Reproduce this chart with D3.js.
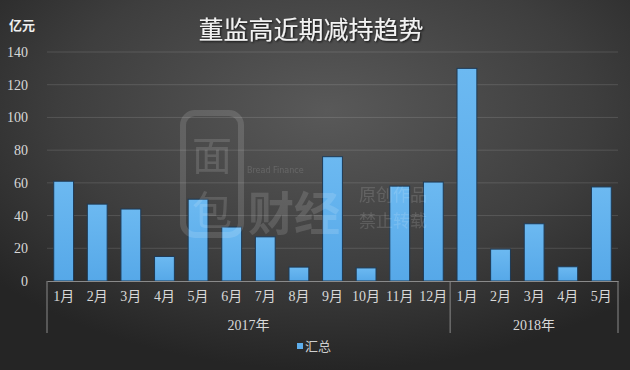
<!DOCTYPE html>
<html>
<head>
<meta charset="utf-8">
<script src="https://cdn.jsdelivr.net/npm/d3@7"></script>
<style>
  body { margin: 0; background: #2a2a2a; }
  svg { display: block; }
</style>
</head>
<body>
<div class="canvas"></div>
<script>
// data
const years = ['2017年', '2018年']
const months2017 = ['1月', '2月', '3月', '4月', '5月', '6月', '7月', '8月', '9月', '10月', '11月', '12月']
const months2018 = ['1月', '2月', '3月', '4月', '5月']
const values2017 = [61, 47, 44, 15, 50, 33, 27, 8.5, 76, 8, 58, 60.5]
const values2018 = [130, 19.5, 35, 8.7, 57.5]
const yTicks = [0, 20, 40, 60, 80, 100, 120, 140]
const seriesName = '汇总'

const data = [
    ...months2017.map((m, i) => ({ key: '2017-' + i, year: years[0], month: m, value: values2017[i] })),
    ...months2018.map((m, i) => ({ key: '2018-' + i, year: years[1], month: m, value: values2018[i] }))
]

const width = 630
const height = 370
const margins = { top: 52, right: 12, bottom: 89, left: 47 }
const gWidth = width - margins.left - margins.right
const gHeight = height - margins.top - margins.bottom

const svg = d3.select('.canvas').append('svg').attr('width', width).attr('height', height)

const defs = svg.append('defs')
const bg = defs.append('radialGradient').attr('id', 'bg')
    .attr('cx', '52%').attr('cy', '30%').attr('r', '70%')
bg.append('stop').attr('offset', '0%').attr('stop-color', '#595959')
bg.append('stop').attr('offset', '60%').attr('stop-color', '#3e3e3e')
bg.append('stop').attr('offset', '100%').attr('stop-color', '#252525')

const barGrad = defs.append('linearGradient').attr('id', 'bar').attr('x1', 0).attr('y1', 0).attr('x2', 0).attr('y2', 1)
barGrad.append('stop').attr('offset', '0%').attr('stop-color', '#6cb9f1')
barGrad.append('stop').attr('offset', '100%').attr('stop-color', '#56a8e8')

const shadow = defs.append('filter').attr('id', 'shadow')
shadow.append('feDropShadow').attr('dx', 1).attr('dy', 1).attr('stdDeviation', 0.8).attr('flood-color', '#000').attr('flood-opacity', 0.8)

svg.append('rect').attr('width', width).attr('height', height).attr('fill', 'url(#bg)')

// title and unit
svg.append('text')
    .attr('x', 311).attr('y', 39)
    .attr('text-anchor', 'middle')
    .attr('font-family', '"Noto Sans CJK SC", sans-serif')
    .attr('font-size', 25)
    .attr('fill', '#f2f2f2')
    .attr('filter', 'url(#shadow)')
    .text('董监高近期减持趋势')

svg.append('text')
    .attr('x', 9).attr('y', 30)
    .attr('font-family', '"Noto Sans CJK SC", sans-serif')
    .attr('font-size', 13)
    .attr('font-weight', 'bold')
    .attr('fill', '#eeeeee')
    .text('亿元')

const graph = svg.append('g').attr('transform', `translate(${margins.left}, ${margins.top})`)

const x = d3.scaleBand()
    .domain(data.map(d => d.key))
    .range([0, gWidth])
    .paddingInner(0.41)
    .paddingOuter(0.2)

const y = d3.scaleLinear()
    .domain([0, 140])
    .range([gHeight, 0])

// gridlines
graph.append('g').selectAll('line').data(yTicks.filter(t => t > 0)).enter().append('line')
    .attr('x1', 0).attr('x2', gWidth)
    .attr('y1', d => y(d)).attr('y2', d => y(d))
    .attr('stroke', '#ffffff').attr('stroke-opacity', 0.13)

// y axis labels
const yAxis = d3.axisLeft(y).tickValues(yTicks).tickSize(0).tickPadding(19)
const yAxisGroup = graph.append('g').call(yAxis)
yAxisGroup.select('.domain').remove()
yAxisGroup.selectAll('text')
    .attr('font-family', '"Liberation Serif", serif')
    .attr('font-size', 14)
    .attr('fill', '#d8d8d8')

// bars
graph.selectAll('rect.bar').data(data).enter().append('rect')
    .attr('class', 'bar')
    .attr('x', d => x(d.key))
    .attr('y', d => y(d.value))
    .attr('width', x.bandwidth())
    .attr('height', d => gHeight - y(d.value))
    .attr('fill', 'url(#bar)')
    .attr('stroke', '#1e3a55')
    .attr('stroke-width', 1)

// watermark, drawn over the bars
const wm = svg.append('g').attr('opacity', 0.13).attr('fill', '#ffffff')
wm.append('rect').attr('x', 183).attr('y', 113).attr('width', 58).attr('height', 122).attr('rx', 12)
    .attr('fill', 'none').attr('stroke', '#ffffff').attr('stroke-width', 6)
wm.append('text').attr('x', 212).attr('y', 170).attr('text-anchor', 'middle')
    .attr('font-family', '"Noto Sans CJK SC", sans-serif').attr('font-size', 40).text('面')
wm.append('text').attr('x', 212).attr('y', 225).attr('text-anchor', 'middle')
    .attr('font-family', '"Noto Sans CJK SC", sans-serif').attr('font-size', 40).text('包')
wm.append('text').attr('x', 247).attr('y', 173)
    .attr('font-family', '"DejaVu Sans", sans-serif').attr('font-size', 8).text('Bread Finance')
wm.append('text').attr('x', 248).attr('y', 230)
    .attr('font-family', '"Noto Sans CJK SC", sans-serif').attr('font-size', 46).attr('font-weight', 'bold').text('财经')
wm.append('text').attr('x', 359).attr('y', 201)
    .attr('font-family', '"Noto Sans CJK SC", sans-serif').attr('font-size', 17).text('原创作品')
wm.append('text').attr('x', 359).attr('y', 227)
    .attr('font-family', '"Noto Sans CJK SC", sans-serif').attr('font-size', 17).text('禁止转载')

// category axis: month labels
const xAxis = d3.axisBottom(x).tickSize(0).tickPadding(10).tickFormat(k => data.find(d => d.key === k).month)
const xAxisGroup = graph.append('g').attr('transform', `translate(0, ${gHeight})`).call(xAxis)
xAxisGroup.select('.domain').attr('stroke', '#8a8a8a')
xAxisGroup.selectAll('text')
    .attr('font-family', '"Liberation Serif", "Noto Sans CJK SC", serif')
    .attr('font-size', 14)
    .attr('fill', '#d8d8d8')

// year groups
const step = x.step()
const groups = years.map(yr => {
    const keys = data.filter(d => d.year === yr).map(d => d.key)
    const first = x(keys[0]) + x.bandwidth() / 2 - step / 2
    const last = x(keys[keys.length - 1]) + x.bandwidth() / 2 + step / 2
    return { year: yr, x0: Math.max(0, first), x1: Math.min(gWidth, last) }
})
const dividers = [0, ...groups.map(g => g.x1)]
graph.append('g').selectAll('line').data(dividers).enter().append('line')
    .attr('x1', d => d).attr('x2', d => d)
    .attr('y1', gHeight).attr('y2', gHeight + 52)
    .attr('stroke', '#8a8a8a')
graph.append('g').selectAll('text').data(groups).enter().append('text')
    .attr('x', d => (d.x0 + d.x1) / 2)
    .attr('y', gHeight + 49)
    .attr('text-anchor', 'middle')
    .attr('font-family', '"Liberation Serif", "Noto Sans CJK SC", serif')
    .attr('font-size', 14)
    .attr('fill', '#d8d8d8')
    .text(d => d.year)

// legend
const legend = svg.append('g').attr('transform', 'translate(297, 347)')
legend.append('rect').attr('x', 0).attr('y', -4).attr('width', 6).attr('height', 6).attr('fill', '#5eaeec')
legend.append('text').attr('x', 8).attr('y', 4)
    .attr('font-family', '"Noto Sans CJK SC", sans-serif')
    .attr('font-size', 13)
    .attr('fill', '#cfcfcf')
    .text(seriesName)
</script>
</body>
</html>
